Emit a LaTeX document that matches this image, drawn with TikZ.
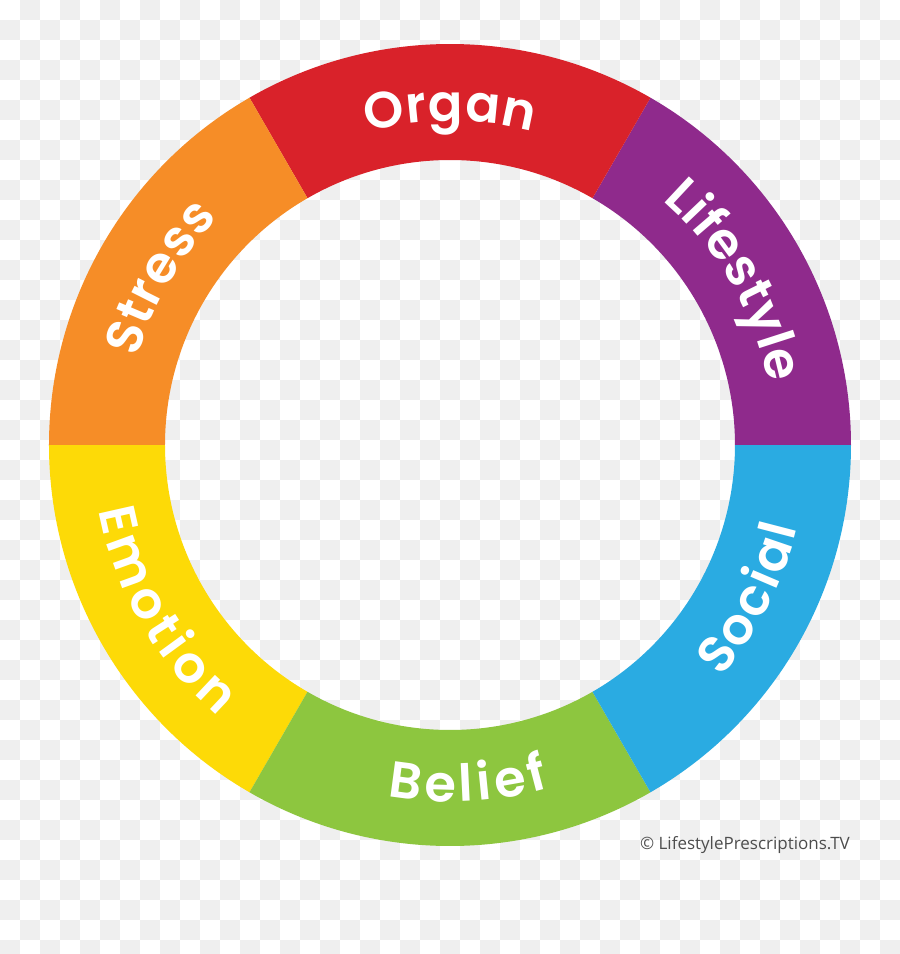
\documentclass[tikz,border=0pt]{standalone}
\usepackage{fontspec}
\usetikzlibrary{decorations.text}
\newfontfamily\labfont{Poppins SemiBold}
\newfontfamily\copyfont{Open Sans}
\definecolor{cred}{HTML}{D9222A}
\definecolor{corange}{HTML}{F68D27}
\definecolor{cpurple}{HTML}{8F2A8C}
\definecolor{cblue}{HTML}{2AABE2}
\definecolor{cgreen}{HTML}{8DC63F}
\definecolor{cyellow}{HTML}{FDDA07}
\definecolor{cgray}{HTML}{EFEFEF}
\definecolor{ctext}{HTML}{4D4D4D}
\newcommand\labsize{\labfont\fontsize{51}{51}\selectfont}
\tikzset{
  seg/.style={fill=#1},
  ringlabel/.style 2 args={decorate, decoration={text effects along path, text={#1}, text align=center,
     text effects/.cd, text along path,
     characters={text=white, font=\labsize, inner xsep=#2, inner ysep=0pt},
     character widths={font=\labsize, inner xsep=#2, inner ysep=0pt}}}
}
\begin{document}
\begin{tikzpicture}[x=1pt,y=1pt]
\useasboundingbox (-450,-509) rectangle (450,445);
\begin{scope}
\clip (-450,-509) rectangle (450,445);
\fill[white] (-450,-509) rectangle (450,445);
\foreach \i in {0,...,44}{
  \foreach \j in {0,...,47}{
    \pgfmathtruncatemacro\odd{mod(\i+\j,2)}
    \ifnum\odd=1
      \fill[cgray] ({20*\i-450},{445-20*\j}) rectangle ({20*\i-430},{425-20*\j});
    \fi
  }
}
\end{scope}
\def\Ro{401}
\def\Ri{285}
\foreach \a/\c in {0/cpurple,60/cred,120/corange,180/cyellow,240/cgreen,300/cblue}{
  \fill[seg=\c] (\a:\Ro) arc[start angle=\a, end angle=\a+60, radius=\Ro]
     -- (\a+60:\Ri) arc[start angle=\a+60, end angle=\a, radius=\Ri] -- cycle;
}
% top labels (clockwise)
\path[ringlabel={Organ}{0.4pt}] (140:324) arc[start angle=140, end angle=40, radius=324];
\path[ringlabel={Lifestyle}{0.3pt}] (80:324) arc[start angle=80, end angle=-20, radius=324];
\path[ringlabel={Stress}{0.4pt}] (200:324) arc[start angle=200, end angle=100, radius=324];
% bottom labels (counterclockwise)
\path[ringlabel={Social}{1.2pt}] (-77:357) arc[start angle=-77, end angle=23, radius=357];
\path[ringlabel={Belief}{2.2pt}] (-137:357) arc[start angle=-137, end angle=-37, radius=357];
\path[ringlabel={Emotion}{2.4pt}] (160:357) arc[start angle=160, end angle=260, radius=357];
\node[anchor=base east, inner sep=0pt, text=ctext, font=\copyfont\fontsize{17}{17}\selectfont] (copy) at (400,-404) {© LifestylePrescriptions.TV};
\end{tikzpicture}
\end{document}
